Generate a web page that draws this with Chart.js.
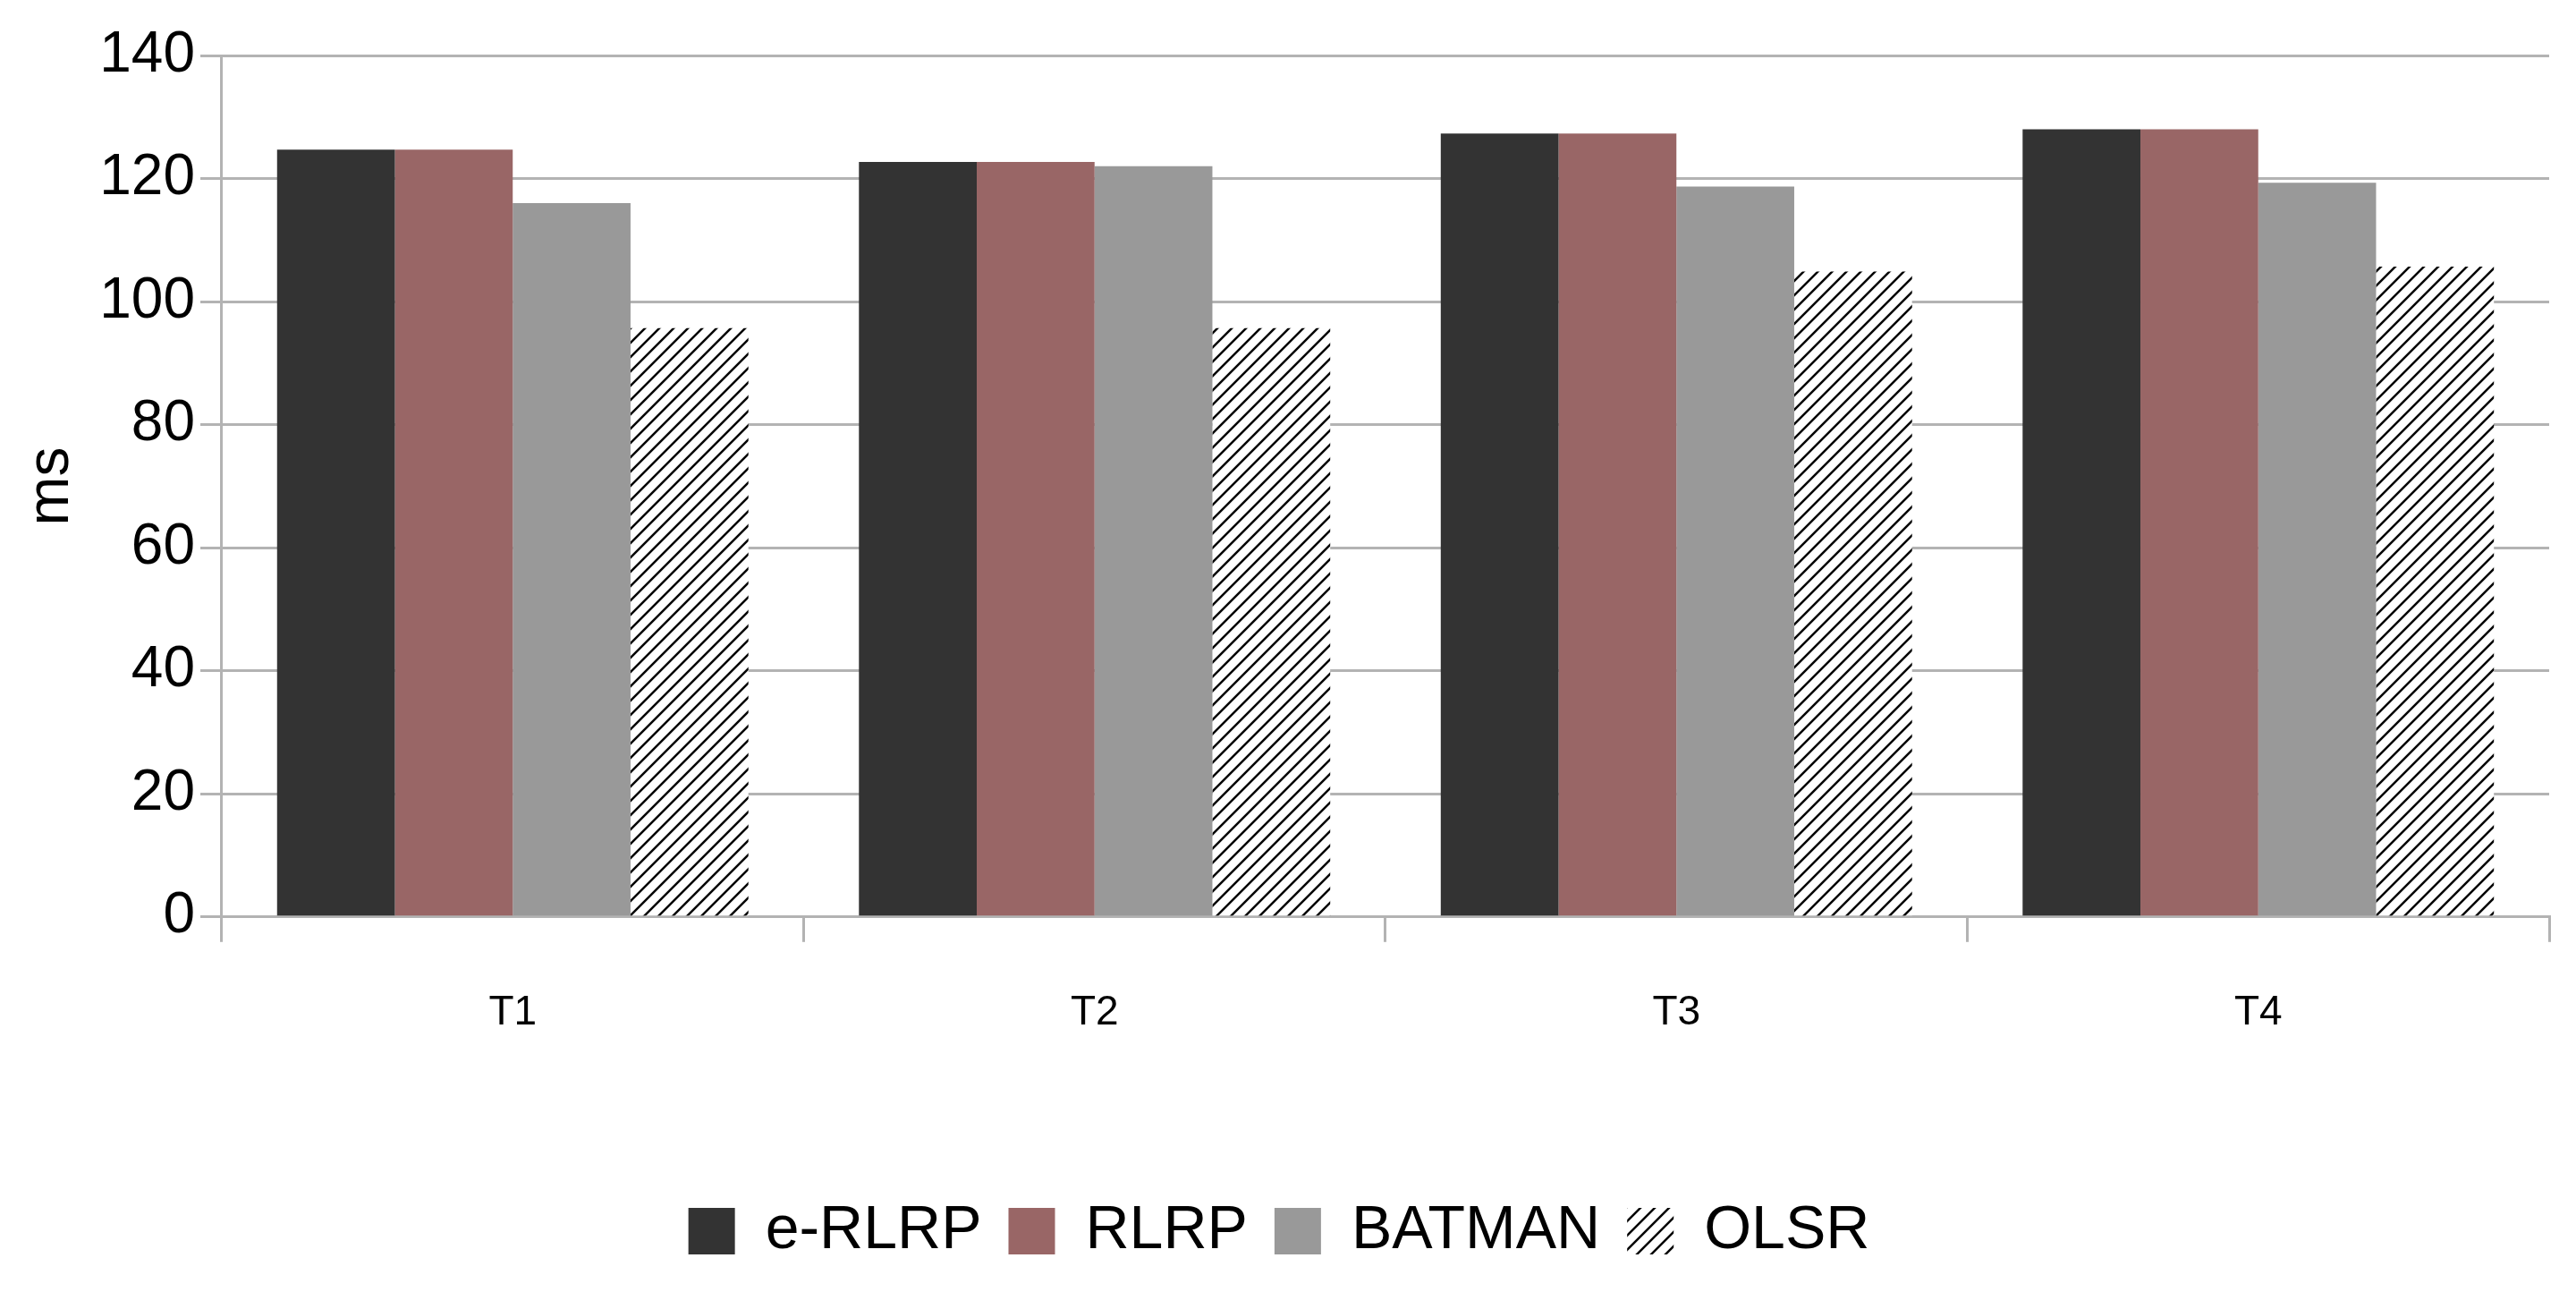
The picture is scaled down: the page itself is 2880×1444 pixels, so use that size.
<!DOCTYPE html>
<html>
<head>
<meta charset="utf-8">
<script src="https://cdn.jsdelivr.net/npm/chart.js@4.4.0/dist/chart.umd.min.js"></script>
<style>
  html, body { margin: 0; padding: 0; background: #fff; }
  #wrap { width: 2880px; height: 1444px; }
</style>
</head>
<body>
<div id="wrap"><canvas id="myChart"></canvas></div>
<script>
const categories = ["T1", "T2", "T3", "T4"];
const eRLRP = [124.7, 122.7, 127.3, 128];
const RLRP = [124.7, 122.7, 127.3, 128];
const BATMAN = [116, 122, 118.7, 119.3];
const OLSR = [95.7, 95.7, 104.9, 105.7];
const yTicks = [0, 20, 40, 60, 80, 100, 120, 140];

function hatch() {
  const c = document.createElement("canvas");
  c.width = 16;
  c.height = 16;
  const g = c.getContext("2d");
  g.fillStyle = "#fff";
  g.fillRect(0, 0, 16, 16);
  g.strokeStyle = "#000";
  g.lineWidth = 2.5;
  g.beginPath();
  g.moveTo(0, 16); g.lineTo(16, 0);
  g.moveTo(-4, 4); g.lineTo(4, -4);
  g.moveTo(12, 20); g.lineTo(20, 12);
  g.stroke();
  return g.createPattern(c, "repeat");
}

const ctx = document.getElementById("myChart");
new Chart(ctx, {
  type: "bar",
  data: {
    labels: categories,
    datasets: [
      { label: "e-RLRP", data: eRLRP, backgroundColor: "#333333" },
      { label: "RLRP", data: RLRP, backgroundColor: "#996666" },
      { label: "BATMAN", data: BATMAN, backgroundColor: "#999999" },
      { label: "OLSR", data: OLSR, backgroundColor: hatch() },
    ],
  },
  options: {
    responsive: true,
    maintainAspectRatio: false,
    animation: false,
    layout: { padding: { left: 10, right: 30, top: 62, bottom: 24 } },
    datasets: { bar: { barPercentage: 1, categoryPercentage: 0.81 } },
    plugins: {
      tooltip: { enabled: false },
      legend: {
        position: "bottom",
        title: { display: true, text: " ", font: { size: 60 }, padding: 14 },
        labels: {
          font: { family: "Liberation Sans", size: 68 },
          color: "#000",
          boxWidth: 52,
          boxHeight: 52,
          padding: 30,
        },
      },
    },
    scales: {
      x: {
        grid: { offset: true, drawOnChartArea: false, color: "#b3b3b3", lineWidth: 3, tickLength: 28 },
        border: { color: "#b3b3b3", width: 3 },
        ticks: { font: { family: "Liberation Sans", size: 46 }, color: "#000", padding: 52 },
      },
      y: {
        min: 0,
        max: 140,
        afterBuildTicks: (axis) => { axis.ticks = yTicks.map((v) => ({ value: v })); },
        grid: { color: "#b3b3b3", lineWidth: 3, tickLength: 24 },
        border: { color: "#b3b3b3", width: 3 },
        ticks: { font: { family: "Liberation Sans", size: 64 }, color: "#000", padding: 6 },
        title: { display: true, text: "ms", font: { family: "Liberation Sans", size: 66 }, color: "#000", padding: 8 },
      },
    },
  },
});
</script>
</body>
</html>
